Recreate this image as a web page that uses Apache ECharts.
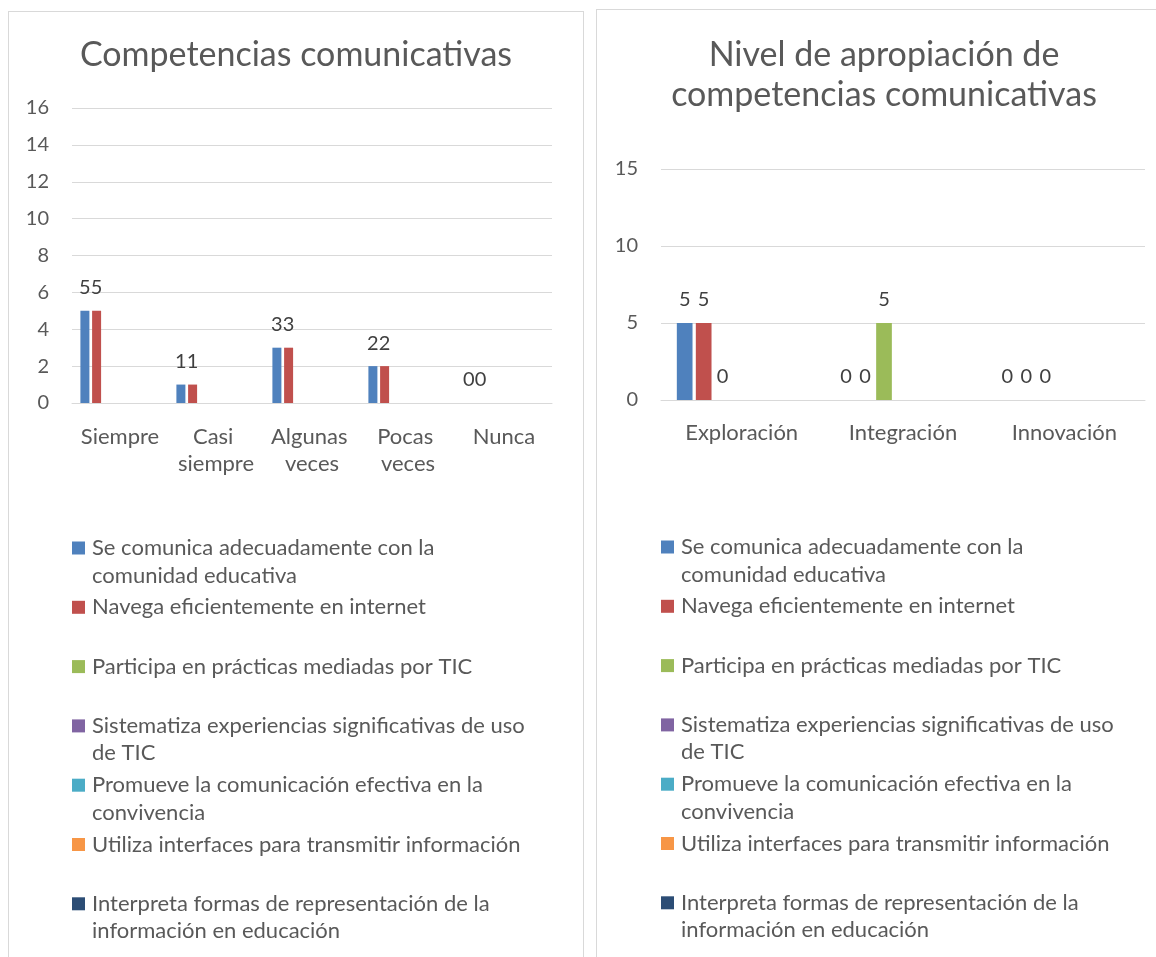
<!DOCTYPE html>
<html>
<head>
<meta charset="utf-8">
<title>Competencias comunicativas</title>
<script src="https://cdn.jsdelivr.net/npm/echarts@6/dist/echarts.min.js"></script>
<style>
  html, body { margin: 0; padding: 0; background: #fff; overflow: hidden; width: 1156px; height: 957px; }
  .panel { position: absolute; border: 1px solid #d9d9d9; border-bottom: none; }
  #chartLeft { left: 8px; top: 11px; width: 574px; height: 960px; }
  #chartRight { left: 596px; top: 9px; width: 574px; height: 960px; }
</style>
</head>
<body>
<div id="chartLeft" class="panel"></div>
<div id="chartRight" class="panel"></div>
<script>
// nombres de las series (leyenda)
const nombresSeries = [
  "Se comunica adecuadamente con la comunidad educativa",
  "Navega eficientemente en internet",
  "Participa en prácticas mediadas por TIC",
  "Sistematiza experiencias significativas de uso de TIC",
  "Promueve la comunicación efectiva en la convivencia",
  "Utiliza interfaces para transmitir información",
  "Interpreta formas de representación de la información en educación"
];
const colores = ["#4F81BD", "#C0504D", "#9BBB59", "#8064A2", "#4BACC6", "#F79646", "#2C4D75"];

// grafico 1: frecuencia
const frecuencias = ["Siempre", "Casi siempre", "Algunas veces", "Pocas veces", "Nunca"];
const frecComunica = [5, 1, 3, 2, 0];
const frecNavega = [5, 1, 3, 2, 0];

// grafico 2: nivel de apropiacion
const niveles = ["Exploración", "Integración", "Innovación"];
const nivelComunica = [5, 0, 0];
const nivelNavega = [5, 0, 0];
const nivelParticipa = [0, 5, 0];

const FONT = "Lato";
const TEXT = "#595959";
const LEGEND_SIZE = 22;
const LEGEND_LINE = 27.5;
const LEGEND_WIDTH = 444;

// el icono de la leyenda queda centrado con el texto; para que quede a la
// altura de la primera linea, a los textos de dos lineas se les pone una
// linea vacia delante y a los de una linea relleno arriba y abajo
var ctx = document.createElement("canvas").getContext("2d");
ctx.font = LEGEND_SIZE + "px " + FONT;
function dosLineas(name) {
  return ctx.measureText(name).width > LEGEND_WIDTH;
}
function legendItem(name) {
  return {
    name: name,
    textStyle: {
      padding: dosLineas(name) ? [0, 0, 0, 2] : [LEGEND_LINE, 0, LEGEND_LINE, 2]
    }
  };
}

function buildOption(cfg) {
  var series = nombresSeries.map(function (name, i) {
    return {
      name: name,
      type: "bar",
      barWidth: cfg.barWidth,
      barGap: cfg.barGap,
      itemStyle: { color: colores[i] },
      label: {
        show: true,
        position: "top",
        distance: 13,
        fontFamily: FONT,
        fontSize: 20,
        color: "#404040"
      },
      data: cfg.valores[i] || []
    };
  });

  return {
    animation: false,
    textStyle: { fontFamily: FONT },
    title: {
      text: cfg.titulo,
      left: "center",
      top: cfg.titleTop,
      padding: 0,
      textStyle: {
        fontFamily: FONT,
        fontSize: 34,
        fontWeight: "normal",
        color: TEXT,
        lineHeight: 40
      }
    },
    grid: cfg.grid,
    xAxis: {
      type: "category",
      data: cfg.categorias,
      axisTick: { show: false },
      axisLine: { lineStyle: { color: "#d9d9d9", width: 1 } },
      axisLabel: {
        interval: 0,
        margin: cfg.xMargin,
        fontFamily: FONT,
        fontSize: 22,
        lineHeight: 27,
        color: TEXT,
        width: cfg.xLabelWidth,
        overflow: "break"
      }
    },
    yAxis: {
      type: "value",
      min: 0,
      max: cfg.yMax,
      interval: cfg.yInterval,
      axisLine: { show: false },
      axisTick: { show: false },
      splitLine: { lineStyle: { color: "#d9d9d9", width: 1 } },
      axisLabel: { margin: 23, fontFamily: FONT, fontSize: 20, color: TEXT }
    },
    legend: {
      orient: "vertical",
      left: cfg.legendLeft,
      top: cfg.legendTop,
      height: 500,
      padding: 0,
      itemGap: 59.3 - 3 * LEGEND_LINE,
      itemWidth: 13,
      itemHeight: 13,
      icon: "rect",
      data: nombresSeries.map(legendItem),
      formatter: function (name) {
        return dosLineas(name) ? "\n" + name : name;
      },
      textStyle: {
        fontFamily: FONT,
        fontSize: LEGEND_SIZE,
        color: TEXT,
        lineHeight: LEGEND_LINE,
        width: LEGEND_WIDTH,
        overflow: "break"
      }
    },
    series: series
  };
}

var chartLeft = echarts.init(document.getElementById("chartLeft"));
chartLeft.setOption(buildOption({
  titulo: "Competencias comunicativas",
  titleTop: 23,
  categorias: frecuencias,
  valores: [frecComunica, frecNavega],
  grid: { left: 63, top: 96, width: 480, height: 295 },
  yMax: 16,
  yInterval: 2,
  barWidth: 9,
  barGap: "30%",
  xMargin: 20,
  xLabelWidth: 92,
  legendLeft: 63,
  legendTop: 548 - 1.5 * LEGEND_LINE - 12
}));

var chartRight = echarts.init(document.getElementById("chartRight"));
chartRight.setOption(buildOption({
  titulo: "Nivel de apropiación de\ncompetencias comunicativas",
  titleTop: 25,
  categorias: niveles,
  valores: [nivelComunica, nivelNavega, nivelParticipa],
  grid: { left: 64, top: 159, width: 484, height: 231 },
  yMax: 15,
  yInterval: 5,
  barWidth: 15.7,
  barGap: "21%",
  xMargin: 19,
  xLabelWidth: 160,
  legendLeft: 64,
  legendTop: 547 - 1.5 * LEGEND_LINE - 10
}));
</script>
</body>
</html>
